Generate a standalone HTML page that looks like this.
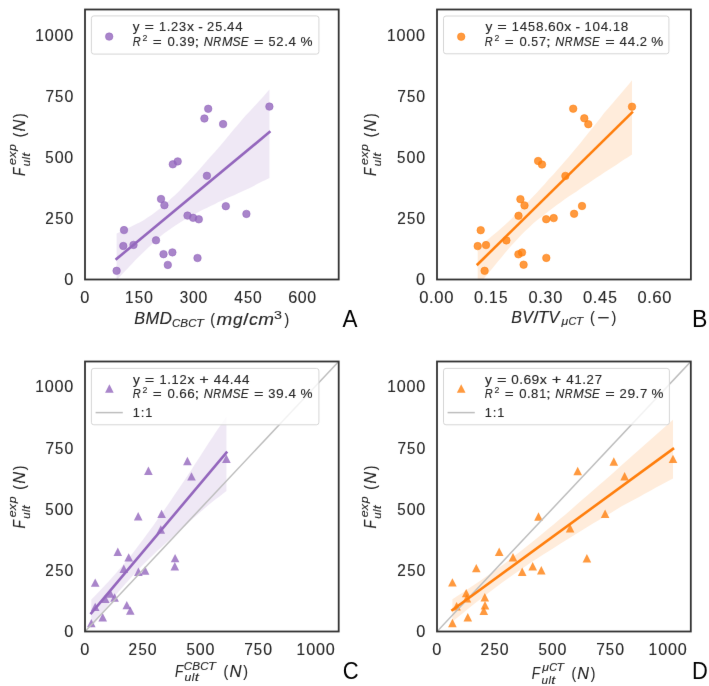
<!DOCTYPE html><html><head><meta charset="utf-8"><style>html,body{margin:0;padding:0;background:#fff;}svg{display:block;font-family:"Liberation Sans", sans-serif;}</style></head><body>
<svg width="709" height="686" viewBox="0 0 709 686">
<defs><filter id="bl" x="0" y="0" width="709" height="686" filterUnits="userSpaceOnUse" color-interpolation-filters="sRGB"><feConvolveMatrix order="3" kernelMatrix="0.00276 0.04704 0.00276 0.04704 0.80077 0.04704 0.00276 0.04704 0.00276" edgeMode="duplicate"/></filter></defs>
<g filter="url(#bl)">
<rect width="709" height="686" fill="#fff"/>
<clipPath id="clip859"><rect x="85.0" y="9.5" width="253.7" height="270.0"/></clipPath>
<g clip-path="url(#clip859)">
<polygon points="116.6,233.6 120.5,231.7 124.4,230.0 128.3,227.9 132.3,226.0 136.2,224.1 140.1,222.2 144.0,219.9 147.9,217.3 151.9,214.7 155.8,211.8 159.7,208.8 163.6,205.5 167.5,201.9 171.4,198.3 175.4,194.8 179.3,190.9 183.2,186.8 187.1,182.7 191.0,178.6 195.0,174.2 198.9,170.0 202.8,165.5 206.7,161.0 210.6,156.5 214.6,152.2 218.5,147.7 222.4,143.2 226.3,138.4 230.2,133.8 234.1,129.1 238.1,124.5 242.0,119.7 245.9,115.2 249.8,111.2 253.7,107.0 257.6,102.7 261.6,98.4 265.5,94.0 269.4,89.6 269.4,178.0 265.5,179.9 261.6,181.8 257.6,183.8 253.7,185.9 249.8,188.0 245.9,189.7 242.0,191.5 238.1,193.2 234.1,195.2 230.2,196.8 226.3,198.6 222.4,200.4 218.5,202.1 214.6,204.2 210.6,206.1 206.7,208.1 202.8,209.7 198.9,211.8 195.0,214.0 191.0,216.0 187.1,218.1 183.2,220.5 179.3,223.0 175.4,225.6 171.4,228.2 167.5,230.9 163.6,233.8 159.7,237.1 155.8,240.5 151.9,244.2 147.9,247.9 144.0,251.8 140.1,255.6 136.2,259.2 132.3,263.5 128.3,267.7 124.4,271.8 120.5,276.0 116.6,280.1" fill="#9467bd" fill-opacity="0.15"/>
<circle cx="116.6" cy="270.8" r="3.75" fill="#9467bd" fill-opacity="0.8" stroke="#9467bd" stroke-opacity="0.8" stroke-width="0.7"/>
<circle cx="123.3" cy="246.0" r="3.75" fill="#9467bd" fill-opacity="0.8" stroke="#9467bd" stroke-opacity="0.8" stroke-width="0.7"/>
<circle cx="124.0" cy="230.1" r="3.75" fill="#9467bd" fill-opacity="0.8" stroke="#9467bd" stroke-opacity="0.8" stroke-width="0.7"/>
<circle cx="133.5" cy="244.9" r="3.75" fill="#9467bd" fill-opacity="0.8" stroke="#9467bd" stroke-opacity="0.8" stroke-width="0.7"/>
<circle cx="156.0" cy="240.3" r="3.75" fill="#9467bd" fill-opacity="0.8" stroke="#9467bd" stroke-opacity="0.8" stroke-width="0.7"/>
<circle cx="161.0" cy="199.0" r="3.75" fill="#9467bd" fill-opacity="0.8" stroke="#9467bd" stroke-opacity="0.8" stroke-width="0.7"/>
<circle cx="164.4" cy="205.2" r="3.75" fill="#9467bd" fill-opacity="0.8" stroke="#9467bd" stroke-opacity="0.8" stroke-width="0.7"/>
<circle cx="163.5" cy="254.2" r="3.75" fill="#9467bd" fill-opacity="0.8" stroke="#9467bd" stroke-opacity="0.8" stroke-width="0.7"/>
<circle cx="172.4" cy="252.4" r="3.75" fill="#9467bd" fill-opacity="0.8" stroke="#9467bd" stroke-opacity="0.8" stroke-width="0.7"/>
<circle cx="167.8" cy="264.9" r="3.75" fill="#9467bd" fill-opacity="0.8" stroke="#9467bd" stroke-opacity="0.8" stroke-width="0.7"/>
<circle cx="172.8" cy="164.3" r="3.75" fill="#9467bd" fill-opacity="0.8" stroke="#9467bd" stroke-opacity="0.8" stroke-width="0.7"/>
<circle cx="177.7" cy="161.4" r="3.75" fill="#9467bd" fill-opacity="0.8" stroke="#9467bd" stroke-opacity="0.8" stroke-width="0.7"/>
<circle cx="187.5" cy="215.6" r="3.75" fill="#9467bd" fill-opacity="0.8" stroke="#9467bd" stroke-opacity="0.8" stroke-width="0.7"/>
<circle cx="193.1" cy="217.8" r="3.75" fill="#9467bd" fill-opacity="0.8" stroke="#9467bd" stroke-opacity="0.8" stroke-width="0.7"/>
<circle cx="198.8" cy="219.3" r="3.75" fill="#9467bd" fill-opacity="0.8" stroke="#9467bd" stroke-opacity="0.8" stroke-width="0.7"/>
<circle cx="197.5" cy="258.0" r="3.75" fill="#9467bd" fill-opacity="0.8" stroke="#9467bd" stroke-opacity="0.8" stroke-width="0.7"/>
<circle cx="206.9" cy="175.8" r="3.75" fill="#9467bd" fill-opacity="0.8" stroke="#9467bd" stroke-opacity="0.8" stroke-width="0.7"/>
<circle cx="208.2" cy="108.8" r="3.75" fill="#9467bd" fill-opacity="0.8" stroke="#9467bd" stroke-opacity="0.8" stroke-width="0.7"/>
<circle cx="204.4" cy="118.5" r="3.75" fill="#9467bd" fill-opacity="0.8" stroke="#9467bd" stroke-opacity="0.8" stroke-width="0.7"/>
<circle cx="223.1" cy="124.1" r="3.75" fill="#9467bd" fill-opacity="0.8" stroke="#9467bd" stroke-opacity="0.8" stroke-width="0.7"/>
<circle cx="269.4" cy="106.6" r="3.75" fill="#9467bd" fill-opacity="0.8" stroke="#9467bd" stroke-opacity="0.8" stroke-width="0.7"/>
<circle cx="225.8" cy="206.2" r="3.75" fill="#9467bd" fill-opacity="0.8" stroke="#9467bd" stroke-opacity="0.8" stroke-width="0.7"/>
<circle cx="246.4" cy="213.9" r="3.75" fill="#9467bd" fill-opacity="0.8" stroke="#9467bd" stroke-opacity="0.8" stroke-width="0.7"/>
<line x1="116.6" y1="258.85" x2="269.4" y2="132.2" stroke="#9467bd" stroke-width="2.6" stroke-linecap="square"/>
</g>
<rect x="85.0" y="9.5" width="253.7" height="270.0" fill="none" stroke="#333333" stroke-width="1.8"/>
<clipPath id="clip4379"><rect x="437.0" y="9.5" width="253.89999999999998" height="270.0"/></clipPath>
<g clip-path="url(#clip4379)">
<polygon points="477.7,247.4 481.7,244.4 485.6,241.3 489.6,238.0 493.5,234.8 497.5,231.5 501.4,228.0 505.4,224.4 509.4,220.7 513.3,216.9 517.3,213.1 521.2,209.1 525.2,205.0 529.1,200.8 533.1,196.6 537.0,192.4 541.0,188.0 545.0,183.7 548.9,179.1 552.9,174.9 556.8,170.5 560.8,166.0 564.7,161.4 568.7,157.0 572.6,152.3 576.6,147.5 580.6,142.7 584.5,137.8 588.5,132.8 592.4,127.9 596.4,122.9 600.4,117.9 604.3,112.8 608.3,108.2 612.2,103.7 616.2,99.0 620.1,94.5 624.1,89.8 628.0,85.2 632.0,80.3 632.0,154.6 628.0,157.2 624.1,159.5 620.1,162.3 616.2,165.0 612.2,167.5 608.3,169.9 604.3,172.6 600.4,175.2 596.4,177.8 592.4,180.6 588.5,183.2 584.5,185.8 580.6,188.5 576.6,191.4 572.6,193.9 568.7,196.5 564.7,199.3 560.8,202.2 556.8,205.0 552.9,208.0 548.9,210.9 545.0,214.1 541.0,217.2 537.0,220.3 533.1,223.6 529.1,227.4 525.2,230.9 521.2,235.1 517.3,239.2 513.3,243.4 509.4,247.8 505.4,252.5 501.4,257.4 497.5,262.1 493.5,266.9 489.6,271.7 485.6,276.5 481.7,281.4 477.7,286.4" fill="#ff7f0e" fill-opacity="0.15"/>
<circle cx="484.6" cy="270.8" r="3.75" fill="#ff7f0e" fill-opacity="0.8" stroke="#ff7f0e" stroke-opacity="0.8" stroke-width="0.7"/>
<circle cx="477.7" cy="246.1" r="3.75" fill="#ff7f0e" fill-opacity="0.8" stroke="#ff7f0e" stroke-opacity="0.8" stroke-width="0.7"/>
<circle cx="486.0" cy="245.1" r="3.75" fill="#ff7f0e" fill-opacity="0.8" stroke="#ff7f0e" stroke-opacity="0.8" stroke-width="0.7"/>
<circle cx="480.7" cy="230.2" r="3.75" fill="#ff7f0e" fill-opacity="0.8" stroke="#ff7f0e" stroke-opacity="0.8" stroke-width="0.7"/>
<circle cx="506.4" cy="240.4" r="3.75" fill="#ff7f0e" fill-opacity="0.8" stroke="#ff7f0e" stroke-opacity="0.8" stroke-width="0.7"/>
<circle cx="518.4" cy="254.3" r="3.75" fill="#ff7f0e" fill-opacity="0.8" stroke="#ff7f0e" stroke-opacity="0.8" stroke-width="0.7"/>
<circle cx="522.0" cy="252.5" r="3.75" fill="#ff7f0e" fill-opacity="0.8" stroke="#ff7f0e" stroke-opacity="0.8" stroke-width="0.7"/>
<circle cx="523.6" cy="264.7" r="3.75" fill="#ff7f0e" fill-opacity="0.8" stroke="#ff7f0e" stroke-opacity="0.8" stroke-width="0.7"/>
<circle cx="518.5" cy="215.8" r="3.75" fill="#ff7f0e" fill-opacity="0.8" stroke="#ff7f0e" stroke-opacity="0.8" stroke-width="0.7"/>
<circle cx="520.4" cy="199.2" r="3.75" fill="#ff7f0e" fill-opacity="0.8" stroke="#ff7f0e" stroke-opacity="0.8" stroke-width="0.7"/>
<circle cx="524.5" cy="205.4" r="3.75" fill="#ff7f0e" fill-opacity="0.8" stroke="#ff7f0e" stroke-opacity="0.8" stroke-width="0.7"/>
<circle cx="538.1" cy="161.0" r="3.75" fill="#ff7f0e" fill-opacity="0.8" stroke="#ff7f0e" stroke-opacity="0.8" stroke-width="0.7"/>
<circle cx="542.0" cy="164.5" r="3.75" fill="#ff7f0e" fill-opacity="0.8" stroke="#ff7f0e" stroke-opacity="0.8" stroke-width="0.7"/>
<circle cx="546.2" cy="219.2" r="3.75" fill="#ff7f0e" fill-opacity="0.8" stroke="#ff7f0e" stroke-opacity="0.8" stroke-width="0.7"/>
<circle cx="553.7" cy="218.1" r="3.75" fill="#ff7f0e" fill-opacity="0.8" stroke="#ff7f0e" stroke-opacity="0.8" stroke-width="0.7"/>
<circle cx="546.3" cy="257.9" r="3.75" fill="#ff7f0e" fill-opacity="0.8" stroke="#ff7f0e" stroke-opacity="0.8" stroke-width="0.7"/>
<circle cx="565.4" cy="175.9" r="3.75" fill="#ff7f0e" fill-opacity="0.8" stroke="#ff7f0e" stroke-opacity="0.8" stroke-width="0.7"/>
<circle cx="574.1" cy="213.8" r="3.75" fill="#ff7f0e" fill-opacity="0.8" stroke="#ff7f0e" stroke-opacity="0.8" stroke-width="0.7"/>
<circle cx="582.0" cy="206.0" r="3.75" fill="#ff7f0e" fill-opacity="0.8" stroke="#ff7f0e" stroke-opacity="0.8" stroke-width="0.7"/>
<circle cx="573.2" cy="108.7" r="3.75" fill="#ff7f0e" fill-opacity="0.8" stroke="#ff7f0e" stroke-opacity="0.8" stroke-width="0.7"/>
<circle cx="584.3" cy="118.3" r="3.75" fill="#ff7f0e" fill-opacity="0.8" stroke="#ff7f0e" stroke-opacity="0.8" stroke-width="0.7"/>
<circle cx="588.3" cy="124.2" r="3.75" fill="#ff7f0e" fill-opacity="0.8" stroke="#ff7f0e" stroke-opacity="0.8" stroke-width="0.7"/>
<circle cx="632.0" cy="106.7" r="3.75" fill="#ff7f0e" fill-opacity="0.8" stroke="#ff7f0e" stroke-opacity="0.8" stroke-width="0.7"/>
<line x1="477.7" y1="264.3" x2="632.0" y2="112.5" stroke="#ff7f0e" stroke-width="2.6" stroke-linecap="square"/>
</g>
<rect x="437.0" y="9.5" width="253.89999999999998" height="270.0" fill="none" stroke="#333333" stroke-width="1.8"/>
<clipPath id="clip85361"><rect x="85.0" y="361.5" width="253.7" height="270.0"/></clipPath>
<g clip-path="url(#clip85361)">
<polygon points="91.3,599.5 94.8,595.9 98.2,592.4 101.7,588.7 105.2,585.0 108.6,581.4 112.1,577.5 115.5,573.7 119.0,569.6 122.5,565.7 125.9,561.4 129.4,557.3 132.9,552.9 136.3,548.5 139.8,543.8 143.3,539.3 146.7,534.6 150.2,529.8 153.7,525.0 157.1,520.1 160.6,515.2 164.1,510.2 167.5,505.2 171.0,500.2 174.4,494.9 177.9,489.9 181.4,484.8 184.8,479.8 188.3,474.5 191.8,469.2 195.2,463.8 198.7,458.4 202.2,453.0 205.6,447.7 209.1,442.3 212.5,437.2 216.0,431.8 219.5,426.8 222.9,421.8 226.4,416.6 226.4,491.0 222.9,493.8 219.5,496.4 216.0,499.1 212.5,501.8 209.1,504.5 205.6,507.5 202.2,510.5 198.7,513.5 195.2,516.6 191.8,519.6 188.3,522.6 184.8,525.7 181.4,528.8 177.9,531.9 174.4,535.2 171.0,538.5 167.5,541.5 164.1,544.7 160.6,547.9 157.1,551.1 153.7,554.5 150.2,557.7 146.7,561.2 143.3,564.6 139.8,568.3 136.3,571.8 132.9,575.5 129.4,579.4 125.9,583.2 122.5,587.2 119.0,591.3 115.5,595.6 112.1,599.9 108.6,604.4 105.2,609.0 101.7,613.6 98.2,618.4 94.8,623.2 91.3,628.0" fill="#9467bd" fill-opacity="0.15"/>
<path d="M91.30,618.90L95.60,627.29L87.00,627.29Z" fill="#9467bd" fill-opacity="0.8"/>
<path d="M95.20,602.70L99.50,611.09L90.90,611.09Z" fill="#9467bd" fill-opacity="0.8"/>
<path d="M95.20,578.40L99.50,586.79L90.90,586.79Z" fill="#9467bd" fill-opacity="0.8"/>
<path d="M102.70,613.10L107.00,621.49L98.40,621.49Z" fill="#9467bd" fill-opacity="0.8"/>
<path d="M105.30,594.70L109.60,603.09L101.00,603.09Z" fill="#9467bd" fill-opacity="0.8"/>
<path d="M110.30,589.30L114.60,597.69L106.00,597.69Z" fill="#9467bd" fill-opacity="0.8"/>
<path d="M114.60,593.30L118.90,601.69L110.30,601.69Z" fill="#9467bd" fill-opacity="0.8"/>
<path d="M117.80,547.50L122.10,555.88L113.50,555.88Z" fill="#9467bd" fill-opacity="0.8"/>
<path d="M123.80,564.50L128.10,572.88L119.50,572.88Z" fill="#9467bd" fill-opacity="0.8"/>
<path d="M128.70,553.20L133.00,561.59L124.40,561.59Z" fill="#9467bd" fill-opacity="0.8"/>
<path d="M126.80,600.90L131.10,609.29L122.50,609.29Z" fill="#9467bd" fill-opacity="0.8"/>
<path d="M130.30,606.40L134.60,614.79L126.00,614.79Z" fill="#9467bd" fill-opacity="0.8"/>
<path d="M138.20,512.00L142.50,520.38L133.90,520.38Z" fill="#9467bd" fill-opacity="0.8"/>
<path d="M138.40,567.50L142.70,575.88L134.10,575.88Z" fill="#9467bd" fill-opacity="0.8"/>
<path d="M145.10,566.30L149.40,574.69L140.80,574.69Z" fill="#9467bd" fill-opacity="0.8"/>
<path d="M148.40,466.60L152.70,474.98L144.10,474.98Z" fill="#9467bd" fill-opacity="0.8"/>
<path d="M161.60,509.70L165.90,518.09L157.30,518.09Z" fill="#9467bd" fill-opacity="0.8"/>
<path d="M160.80,525.30L165.10,533.69L156.50,533.69Z" fill="#9467bd" fill-opacity="0.8"/>
<path d="M175.10,553.90L179.40,562.29L170.80,562.29Z" fill="#9467bd" fill-opacity="0.8"/>
<path d="M174.80,562.00L179.10,570.38L170.50,570.38Z" fill="#9467bd" fill-opacity="0.8"/>
<path d="M187.40,456.80L191.70,465.19L183.10,465.19Z" fill="#9467bd" fill-opacity="0.8"/>
<path d="M191.50,472.20L195.80,480.58L187.20,480.58Z" fill="#9467bd" fill-opacity="0.8"/>
<path d="M226.40,454.60L230.70,462.98L222.10,462.98Z" fill="#9467bd" fill-opacity="0.8"/>
<line x1="85.0" y1="631.5" x2="338.7" y2="361.5" stroke="#bebebe" stroke-width="1.5"/>
<line x1="91.3" y1="613.2" x2="226.4" y2="452.6" stroke="#9467bd" stroke-width="2.6" stroke-linecap="square"/>
</g>
<rect x="85.0" y="361.5" width="253.7" height="270.0" fill="none" stroke="#333333" stroke-width="1.8"/>
<clipPath id="clip437361"><rect x="437.0" y="361.5" width="253.79999999999995" height="270.0"/></clipPath>
<g clip-path="url(#clip437361)">
<polygon points="452.4,599.2 458.1,595.6 463.7,592.0 469.4,588.1 475.0,584.3 480.7,580.5 486.3,576.6 492.0,572.7 497.6,568.6 503.3,564.4 509.0,560.2 514.6,555.8 520.3,551.4 525.9,546.9 531.6,542.4 537.2,537.9 542.9,533.3 548.6,528.5 554.2,523.9 559.9,519.1 565.5,514.4 571.2,509.4 576.8,504.6 582.5,499.6 588.1,494.8 593.8,489.8 599.5,484.8 605.1,479.9 610.8,475.0 616.4,469.9 622.1,464.8 627.8,459.7 633.4,454.7 639.1,449.8 644.7,444.8 650.4,439.8 656.0,434.8 661.7,429.8 667.3,424.8 673.0,419.8 673.0,478.6 667.3,481.5 661.7,484.6 656.0,487.6 650.4,490.8 644.7,493.8 639.1,496.9 633.4,499.9 627.8,502.9 622.1,506.1 616.4,509.6 610.8,513.0 605.1,516.3 599.5,519.8 593.8,523.1 588.1,526.6 582.5,530.0 576.8,533.4 571.2,537.0 565.5,540.5 559.9,544.1 554.2,547.7 548.6,551.2 542.9,554.8 537.2,558.4 531.6,562.1 525.9,566.0 520.3,569.9 514.6,573.8 509.0,577.8 503.3,581.8 497.6,586.0 492.0,590.3 486.3,594.5 480.7,598.9 475.0,603.3 469.4,607.8 463.7,612.4 458.1,617.1 452.4,621.7" fill="#ff7f0e" fill-opacity="0.15"/>
<path d="M452.40,618.80L456.70,627.19L448.10,627.19Z" fill="#ff7f0e" fill-opacity="0.8"/>
<path d="M452.40,578.20L456.70,586.59L448.10,586.59Z" fill="#ff7f0e" fill-opacity="0.8"/>
<path d="M456.60,602.10L460.90,610.49L452.30,610.49Z" fill="#ff7f0e" fill-opacity="0.8"/>
<path d="M467.80,613.00L472.10,621.38L463.50,621.38Z" fill="#ff7f0e" fill-opacity="0.8"/>
<path d="M466.20,588.90L470.50,597.29L461.90,597.29Z" fill="#ff7f0e" fill-opacity="0.8"/>
<path d="M466.90,594.10L471.20,602.49L462.60,602.49Z" fill="#ff7f0e" fill-opacity="0.8"/>
<path d="M476.30,563.90L480.60,572.29L472.00,572.29Z" fill="#ff7f0e" fill-opacity="0.8"/>
<path d="M484.80,593.10L489.10,601.49L480.50,601.49Z" fill="#ff7f0e" fill-opacity="0.8"/>
<path d="M485.00,601.10L489.30,609.49L480.70,609.49Z" fill="#ff7f0e" fill-opacity="0.8"/>
<path d="M483.80,606.60L488.10,614.99L479.50,614.99Z" fill="#ff7f0e" fill-opacity="0.8"/>
<path d="M499.20,547.60L503.50,555.99L494.90,555.99Z" fill="#ff7f0e" fill-opacity="0.8"/>
<path d="M513.00,553.10L517.30,561.49L508.70,561.49Z" fill="#ff7f0e" fill-opacity="0.8"/>
<path d="M522.20,567.60L526.50,575.99L517.90,575.99Z" fill="#ff7f0e" fill-opacity="0.8"/>
<path d="M532.70,562.00L537.00,570.38L528.40,570.38Z" fill="#ff7f0e" fill-opacity="0.8"/>
<path d="M541.30,566.00L545.60,574.38L537.00,574.38Z" fill="#ff7f0e" fill-opacity="0.8"/>
<path d="M538.50,512.30L542.80,520.69L534.20,520.69Z" fill="#ff7f0e" fill-opacity="0.8"/>
<path d="M570.10,524.00L574.40,532.38L565.80,532.38Z" fill="#ff7f0e" fill-opacity="0.8"/>
<path d="M586.90,554.10L591.20,562.49L582.60,562.49Z" fill="#ff7f0e" fill-opacity="0.8"/>
<path d="M577.70,466.80L582.00,475.19L573.40,475.19Z" fill="#ff7f0e" fill-opacity="0.8"/>
<path d="M605.10,509.60L609.40,517.99L600.80,517.99Z" fill="#ff7f0e" fill-opacity="0.8"/>
<path d="M613.80,457.30L618.10,465.69L609.50,465.69Z" fill="#ff7f0e" fill-opacity="0.8"/>
<path d="M624.60,472.10L628.90,480.48L620.30,480.48Z" fill="#ff7f0e" fill-opacity="0.8"/>
<path d="M673.00,454.70L677.30,463.08L668.70,463.08Z" fill="#ff7f0e" fill-opacity="0.8"/>
<line x1="437.0" y1="631.5" x2="690.8" y2="361.5" stroke="#bebebe" stroke-width="1.5"/>
<line x1="452.4" y1="610.0" x2="673.0" y2="448.9" stroke="#ff7f0e" stroke-width="2.6" stroke-linecap="square"/>
</g>
<rect x="437.0" y="361.5" width="253.79999999999995" height="270.0" fill="none" stroke="#333333" stroke-width="1.8"/>
<rect x="91.4" y="15.9" width="227.49999999999997" height="38.2" rx="2.5" ry="2.5" fill="#fff" fill-opacity="0.8" stroke="#d6d6d6" stroke-width="1"/>
<circle cx="109.2" cy="36.6" r="3.75" fill="#9467bd" fill-opacity="0.8" stroke="#9467bd" stroke-opacity="0.8" stroke-width="0.7"/>
<text x="132.87" y="31.10" font-size="12.6" fill="#262626" stroke="#262626" stroke-width="0.12" textLength="6.79" lengthAdjust="spacingAndGlyphs">y</text>
<text x="144.56" y="31.10" font-size="12.6" fill="#262626" stroke="#262626" stroke-width="0.12" textLength="9.49" lengthAdjust="spacingAndGlyphs">=</text>
<text x="159.03" y="31.10" font-size="12.6" fill="#262626" stroke="#262626" stroke-width="0.12" textLength="7.06" lengthAdjust="spacingAndGlyphs">1</text>
<text x="166.79" y="31.10" font-size="12.6" fill="#262626" stroke="#262626" stroke-width="0.12" textLength="3.69" lengthAdjust="spacingAndGlyphs">.</text>
<text x="170.92" y="31.10" font-size="12.6" fill="#262626" stroke="#262626" stroke-width="0.12" textLength="7.18" lengthAdjust="spacingAndGlyphs">2</text>
<text x="179.14" y="31.10" font-size="12.6" fill="#262626" stroke="#262626" stroke-width="0.12" textLength="7.13" lengthAdjust="spacingAndGlyphs">3</text>
<text x="186.91" y="31.10" font-size="12.6" fill="#262626" stroke="#262626" stroke-width="0.12" textLength="7.01" lengthAdjust="spacingAndGlyphs">x</text>
<text x="198.18" y="31.10" font-size="12.6" fill="#262626" stroke="#262626" stroke-width="0.12" textLength="4.55" lengthAdjust="spacingAndGlyphs">-</text>
<text x="207.04" y="31.10" font-size="12.6" fill="#262626" stroke="#262626" stroke-width="0.12" textLength="7.18" lengthAdjust="spacingAndGlyphs">2</text>
<text x="215.27" y="31.10" font-size="12.6" fill="#262626" stroke="#262626" stroke-width="0.12" textLength="6.98" lengthAdjust="spacingAndGlyphs">5</text>
<text x="222.99" y="31.10" font-size="12.6" fill="#262626" stroke="#262626" stroke-width="0.12" textLength="3.69" lengthAdjust="spacingAndGlyphs">.</text>
<text x="227.14" y="31.10" font-size="12.6" fill="#262626" stroke="#262626" stroke-width="0.12" textLength="7.40" lengthAdjust="spacingAndGlyphs">4</text>
<text x="235.18" y="31.10" font-size="12.6" fill="#262626" stroke="#262626" stroke-width="0.12" textLength="7.40" lengthAdjust="spacingAndGlyphs">4</text>
<text x="132.67" y="46.00" font-size="12.6" fill="#262626" font-style="italic" stroke="#262626" stroke-width="0.12" textLength="7.96" lengthAdjust="spacingAndGlyphs">R</text>
<text x="142.47" y="41.00" font-size="8.9" fill="#262626" stroke="#262626" stroke-width="0.12" textLength="4.89" lengthAdjust="spacingAndGlyphs">2</text>
<text x="152.78" y="46.00" font-size="12.6" fill="#262626" stroke="#262626" stroke-width="0.12" textLength="8.99" lengthAdjust="spacingAndGlyphs">=</text>
<text x="167.59" y="46.00" font-size="12.6" fill="#262626" stroke="#262626" stroke-width="0.12" textLength="7.31" lengthAdjust="spacingAndGlyphs">0</text>
<text x="175.38" y="46.00" font-size="12.6" fill="#262626" stroke="#262626" stroke-width="0.12" textLength="3.63" lengthAdjust="spacingAndGlyphs">.</text>
<text x="179.64" y="46.00" font-size="12.6" fill="#262626" stroke="#262626" stroke-width="0.12" textLength="7.03" lengthAdjust="spacingAndGlyphs">3</text>
<text x="187.22" y="46.00" font-size="12.6" fill="#262626" stroke="#262626" stroke-width="0.12" textLength="7.51" lengthAdjust="spacingAndGlyphs">9</text>
<text x="194.49" y="46.00" font-size="12.6" fill="#262626" stroke="#262626" stroke-width="0.12" textLength="4.73" lengthAdjust="spacingAndGlyphs">;</text>
<text x="203.76" y="46.00" font-size="12.6" fill="#262626" font-style="italic" stroke="#262626" stroke-width="0.12" textLength="9.10" lengthAdjust="spacingAndGlyphs">N</text>
<text x="213.24" y="46.00" font-size="12.6" fill="#262626" font-style="italic" stroke="#262626" stroke-width="0.12" textLength="7.86" lengthAdjust="spacingAndGlyphs">R</text>
<text x="221.93" y="46.00" font-size="12.6" fill="#262626" font-style="italic" stroke="#262626" stroke-width="0.12" textLength="10.56" lengthAdjust="spacingAndGlyphs">M</text>
<text x="232.57" y="46.00" font-size="12.6" fill="#262626" font-style="italic" stroke="#262626" stroke-width="0.12" textLength="8.00" lengthAdjust="spacingAndGlyphs">S</text>
<text x="240.82" y="46.00" font-size="12.6" fill="#262626" font-style="italic" stroke="#262626" stroke-width="0.12" textLength="7.82" lengthAdjust="spacingAndGlyphs">E</text>
<text x="254.09" y="46.00" font-size="12.6" fill="#262626" stroke="#262626" stroke-width="0.12" textLength="9.59" lengthAdjust="spacingAndGlyphs">=</text>
<text x="268.47" y="46.00" font-size="12.6" fill="#262626" stroke="#262626" stroke-width="0.12" textLength="7.06" lengthAdjust="spacingAndGlyphs">5</text>
<text x="276.38" y="46.00" font-size="12.6" fill="#262626" stroke="#262626" stroke-width="0.12" textLength="7.26" lengthAdjust="spacingAndGlyphs">2</text>
<text x="284.39" y="46.00" font-size="12.6" fill="#262626" stroke="#262626" stroke-width="0.12" textLength="3.73" lengthAdjust="spacingAndGlyphs">.</text>
<text x="288.59" y="46.00" font-size="12.6" fill="#262626" stroke="#262626" stroke-width="0.12" textLength="7.49" lengthAdjust="spacingAndGlyphs">4</text>
<text x="300.62" y="46.00" font-size="12.6" fill="#262626" stroke="#262626" stroke-width="0.12" textLength="12.04" lengthAdjust="spacingAndGlyphs">%</text>
<rect x="443.5" y="16.0" width="225.39999999999998" height="37.8" rx="2.5" ry="2.5" fill="#fff" fill-opacity="0.8" stroke="#d6d6d6" stroke-width="1"/>
<circle cx="461.2" cy="36.7" r="3.75" fill="#ff7f0e" fill-opacity="0.8" stroke="#ff7f0e" stroke-opacity="0.8" stroke-width="0.7"/>
<text x="485.47" y="30.80" font-size="12.6" fill="#262626" stroke="#262626" stroke-width="0.12" textLength="6.84" lengthAdjust="spacingAndGlyphs">y</text>
<text x="497.24" y="30.80" font-size="12.6" fill="#262626" stroke="#262626" stroke-width="0.12" textLength="9.56" lengthAdjust="spacingAndGlyphs">=</text>
<text x="511.82" y="30.80" font-size="12.6" fill="#262626" stroke="#262626" stroke-width="0.12" textLength="7.11" lengthAdjust="spacingAndGlyphs">1</text>
<text x="519.78" y="30.80" font-size="12.6" fill="#262626" stroke="#262626" stroke-width="0.12" textLength="7.46" lengthAdjust="spacingAndGlyphs">4</text>
<text x="528.05" y="30.80" font-size="12.6" fill="#262626" stroke="#262626" stroke-width="0.12" textLength="7.04" lengthAdjust="spacingAndGlyphs">5</text>
<text x="535.94" y="30.80" font-size="12.6" fill="#262626" stroke="#262626" stroke-width="0.12" textLength="7.52" lengthAdjust="spacingAndGlyphs">8</text>
<text x="543.91" y="30.80" font-size="12.6" fill="#262626" stroke="#262626" stroke-width="0.12" textLength="3.71" lengthAdjust="spacingAndGlyphs">.</text>
<text x="547.99" y="30.80" font-size="12.6" fill="#262626" stroke="#262626" stroke-width="0.12" textLength="7.68" lengthAdjust="spacingAndGlyphs">6</text>
<text x="556.17" y="30.80" font-size="12.6" fill="#262626" stroke="#262626" stroke-width="0.12" textLength="7.48" lengthAdjust="spacingAndGlyphs">0</text>
<text x="564.18" y="30.80" font-size="12.6" fill="#262626" stroke="#262626" stroke-width="0.12" textLength="7.06" lengthAdjust="spacingAndGlyphs">x</text>
<text x="575.53" y="30.80" font-size="12.6" fill="#262626" stroke="#262626" stroke-width="0.12" textLength="4.58" lengthAdjust="spacingAndGlyphs">-</text>
<text x="584.62" y="30.80" font-size="12.6" fill="#262626" stroke="#262626" stroke-width="0.12" textLength="7.11" lengthAdjust="spacingAndGlyphs">1</text>
<text x="592.56" y="30.80" font-size="12.6" fill="#262626" stroke="#262626" stroke-width="0.12" textLength="7.48" lengthAdjust="spacingAndGlyphs">0</text>
<text x="600.66" y="30.80" font-size="12.6" fill="#262626" stroke="#262626" stroke-width="0.12" textLength="7.46" lengthAdjust="spacingAndGlyphs">4</text>
<text x="608.61" y="30.80" font-size="12.6" fill="#262626" stroke="#262626" stroke-width="0.12" textLength="3.71" lengthAdjust="spacingAndGlyphs">.</text>
<text x="612.93" y="30.80" font-size="12.6" fill="#262626" stroke="#262626" stroke-width="0.12" textLength="7.11" lengthAdjust="spacingAndGlyphs">1</text>
<text x="620.87" y="30.80" font-size="12.6" fill="#262626" stroke="#262626" stroke-width="0.12" textLength="7.52" lengthAdjust="spacingAndGlyphs">8</text>
<text x="484.77" y="45.90" font-size="12.6" fill="#262626" font-style="italic" stroke="#262626" stroke-width="0.12" textLength="7.90" lengthAdjust="spacingAndGlyphs">R</text>
<text x="494.48" y="40.90" font-size="8.9" fill="#262626" stroke="#262626" stroke-width="0.12" textLength="4.85" lengthAdjust="spacingAndGlyphs">2</text>
<text x="504.71" y="45.90" font-size="12.6" fill="#262626" stroke="#262626" stroke-width="0.12" textLength="8.91" lengthAdjust="spacingAndGlyphs">=</text>
<text x="519.40" y="45.90" font-size="12.6" fill="#262626" stroke="#262626" stroke-width="0.12" textLength="7.25" lengthAdjust="spacingAndGlyphs">0</text>
<text x="527.13" y="45.90" font-size="12.6" fill="#262626" stroke="#262626" stroke-width="0.12" textLength="3.60" lengthAdjust="spacingAndGlyphs">.</text>
<text x="531.35" y="45.90" font-size="12.6" fill="#262626" stroke="#262626" stroke-width="0.12" textLength="6.82" lengthAdjust="spacingAndGlyphs">5</text>
<text x="539.12" y="45.90" font-size="12.6" fill="#262626" stroke="#262626" stroke-width="0.12" textLength="7.05" lengthAdjust="spacingAndGlyphs">7</text>
<text x="546.06" y="45.90" font-size="12.6" fill="#262626" stroke="#262626" stroke-width="0.12" textLength="4.73" lengthAdjust="spacingAndGlyphs">;</text>
<text x="555.27" y="45.90" font-size="12.6" fill="#262626" font-style="italic" stroke="#262626" stroke-width="0.12" textLength="9.02" lengthAdjust="spacingAndGlyphs">N</text>
<text x="564.66" y="45.90" font-size="12.6" fill="#262626" font-style="italic" stroke="#262626" stroke-width="0.12" textLength="7.79" lengthAdjust="spacingAndGlyphs">R</text>
<text x="573.29" y="45.90" font-size="12.6" fill="#262626" font-style="italic" stroke="#262626" stroke-width="0.12" textLength="10.47" lengthAdjust="spacingAndGlyphs">M</text>
<text x="583.83" y="45.90" font-size="12.6" fill="#262626" font-style="italic" stroke="#262626" stroke-width="0.12" textLength="7.93" lengthAdjust="spacingAndGlyphs">S</text>
<text x="592.02" y="45.90" font-size="12.6" fill="#262626" font-style="italic" stroke="#262626" stroke-width="0.12" textLength="7.75" lengthAdjust="spacingAndGlyphs">E</text>
<text x="605.18" y="45.90" font-size="12.6" fill="#262626" stroke="#262626" stroke-width="0.12" textLength="9.51" lengthAdjust="spacingAndGlyphs">=</text>
<text x="619.64" y="45.90" font-size="12.6" fill="#262626" stroke="#262626" stroke-width="0.12" textLength="7.47" lengthAdjust="spacingAndGlyphs">4</text>
<text x="627.74" y="45.90" font-size="12.6" fill="#262626" stroke="#262626" stroke-width="0.12" textLength="7.47" lengthAdjust="spacingAndGlyphs">4</text>
<text x="635.70" y="45.90" font-size="12.6" fill="#262626" stroke="#262626" stroke-width="0.12" textLength="3.72" lengthAdjust="spacingAndGlyphs">.</text>
<text x="639.86" y="45.90" font-size="12.6" fill="#262626" stroke="#262626" stroke-width="0.12" textLength="7.24" lengthAdjust="spacingAndGlyphs">2</text>
<text x="651.32" y="45.90" font-size="12.6" fill="#262626" stroke="#262626" stroke-width="0.12" textLength="11.94" lengthAdjust="spacingAndGlyphs">%</text>
<rect x="91.4" y="368.4" width="227.49999999999997" height="56.400000000000034" rx="2.5" ry="2.5" fill="#fff" fill-opacity="0.8" stroke="#d6d6d6" stroke-width="1"/>
<path d="M109.40,384.30L113.70,392.69L105.10,392.69Z" fill="#9467bd" fill-opacity="0.8"/>
<text x="133.07" y="383.60" font-size="12.6" fill="#262626" stroke="#262626" stroke-width="0.12" textLength="6.84" lengthAdjust="spacingAndGlyphs">y</text>
<text x="144.84" y="383.60" font-size="12.6" fill="#262626" stroke="#262626" stroke-width="0.12" textLength="9.55" lengthAdjust="spacingAndGlyphs">=</text>
<text x="159.41" y="383.60" font-size="12.6" fill="#262626" stroke="#262626" stroke-width="0.12" textLength="7.11" lengthAdjust="spacingAndGlyphs">1</text>
<text x="167.22" y="383.60" font-size="12.6" fill="#262626" stroke="#262626" stroke-width="0.12" textLength="3.71" lengthAdjust="spacingAndGlyphs">.</text>
<text x="171.54" y="383.60" font-size="12.6" fill="#262626" stroke="#262626" stroke-width="0.12" textLength="7.11" lengthAdjust="spacingAndGlyphs">1</text>
<text x="179.46" y="383.60" font-size="12.6" fill="#262626" stroke="#262626" stroke-width="0.12" textLength="7.22" lengthAdjust="spacingAndGlyphs">2</text>
<text x="187.48" y="383.60" font-size="12.6" fill="#262626" stroke="#262626" stroke-width="0.12" textLength="7.06" lengthAdjust="spacingAndGlyphs">x</text>
<text x="199.39" y="383.60" font-size="12.6" fill="#262626" stroke="#262626" stroke-width="0.12" textLength="9.55" lengthAdjust="spacingAndGlyphs">+</text>
<text x="213.83" y="383.60" font-size="12.6" fill="#262626" stroke="#262626" stroke-width="0.12" textLength="7.45" lengthAdjust="spacingAndGlyphs">4</text>
<text x="221.92" y="383.60" font-size="12.6" fill="#262626" stroke="#262626" stroke-width="0.12" textLength="7.45" lengthAdjust="spacingAndGlyphs">4</text>
<text x="229.86" y="383.60" font-size="12.6" fill="#262626" stroke="#262626" stroke-width="0.12" textLength="3.71" lengthAdjust="spacingAndGlyphs">.</text>
<text x="234.04" y="383.60" font-size="12.6" fill="#262626" stroke="#262626" stroke-width="0.12" textLength="7.45" lengthAdjust="spacingAndGlyphs">4</text>
<text x="242.13" y="383.60" font-size="12.6" fill="#262626" stroke="#262626" stroke-width="0.12" textLength="7.45" lengthAdjust="spacingAndGlyphs">4</text>
<text x="132.67" y="398.30" font-size="12.6" fill="#262626" font-style="italic" stroke="#262626" stroke-width="0.12" textLength="7.95" lengthAdjust="spacingAndGlyphs">R</text>
<text x="142.46" y="393.30" font-size="8.9" fill="#262626" stroke="#262626" stroke-width="0.12" textLength="4.89" lengthAdjust="spacingAndGlyphs">2</text>
<text x="152.76" y="398.30" font-size="12.6" fill="#262626" stroke="#262626" stroke-width="0.12" textLength="8.98" lengthAdjust="spacingAndGlyphs">=</text>
<text x="167.55" y="398.30" font-size="12.6" fill="#262626" stroke="#262626" stroke-width="0.12" textLength="7.31" lengthAdjust="spacingAndGlyphs">0</text>
<text x="175.34" y="398.30" font-size="12.6" fill="#262626" stroke="#262626" stroke-width="0.12" textLength="3.63" lengthAdjust="spacingAndGlyphs">.</text>
<text x="179.32" y="398.30" font-size="12.6" fill="#262626" stroke="#262626" stroke-width="0.12" textLength="7.51" lengthAdjust="spacingAndGlyphs">6</text>
<text x="187.22" y="398.30" font-size="12.6" fill="#262626" stroke="#262626" stroke-width="0.12" textLength="7.51" lengthAdjust="spacingAndGlyphs">6</text>
<text x="194.42" y="398.30" font-size="12.6" fill="#262626" stroke="#262626" stroke-width="0.12" textLength="4.73" lengthAdjust="spacingAndGlyphs">;</text>
<text x="203.68" y="398.30" font-size="12.6" fill="#262626" font-style="italic" stroke="#262626" stroke-width="0.12" textLength="9.09" lengthAdjust="spacingAndGlyphs">N</text>
<text x="213.15" y="398.30" font-size="12.6" fill="#262626" font-style="italic" stroke="#262626" stroke-width="0.12" textLength="7.85" lengthAdjust="spacingAndGlyphs">R</text>
<text x="221.83" y="398.30" font-size="12.6" fill="#262626" font-style="italic" stroke="#262626" stroke-width="0.12" textLength="10.55" lengthAdjust="spacingAndGlyphs">M</text>
<text x="232.46" y="398.30" font-size="12.6" fill="#262626" font-style="italic" stroke="#262626" stroke-width="0.12" textLength="7.99" lengthAdjust="spacingAndGlyphs">S</text>
<text x="240.70" y="398.30" font-size="12.6" fill="#262626" font-style="italic" stroke="#262626" stroke-width="0.12" textLength="7.81" lengthAdjust="spacingAndGlyphs">E</text>
<text x="253.95" y="398.30" font-size="12.6" fill="#262626" stroke="#262626" stroke-width="0.12" textLength="9.58" lengthAdjust="spacingAndGlyphs">=</text>
<text x="268.34" y="398.30" font-size="12.6" fill="#262626" stroke="#262626" stroke-width="0.12" textLength="7.19" lengthAdjust="spacingAndGlyphs">3</text>
<text x="276.11" y="398.30" font-size="12.6" fill="#262626" stroke="#262626" stroke-width="0.12" textLength="7.70" lengthAdjust="spacingAndGlyphs">9</text>
<text x="284.24" y="398.30" font-size="12.6" fill="#262626" stroke="#262626" stroke-width="0.12" textLength="3.72" lengthAdjust="spacingAndGlyphs">.</text>
<text x="288.43" y="398.30" font-size="12.6" fill="#262626" stroke="#262626" stroke-width="0.12" textLength="7.47" lengthAdjust="spacingAndGlyphs">4</text>
<text x="300.43" y="398.30" font-size="12.6" fill="#262626" stroke="#262626" stroke-width="0.12" textLength="12.03" lengthAdjust="spacingAndGlyphs">%</text>
<line x1="95.6" y1="412.6" x2="122.8" y2="412.6" stroke="#bebebe" stroke-width="1.5"/>
<text x="132.85" y="417.30" font-size="12.6" fill="#262626" stroke="#262626" stroke-width="0.12" textLength="7.07" lengthAdjust="spacingAndGlyphs">1</text>
<text x="140.74" y="417.30" font-size="12.6" fill="#262626" stroke="#262626" stroke-width="0.12" textLength="3.69" lengthAdjust="spacingAndGlyphs">:</text>
<text x="145.15" y="417.30" font-size="12.6" fill="#262626" stroke="#262626" stroke-width="0.12" textLength="7.07" lengthAdjust="spacingAndGlyphs">1</text>
<rect x="443.5" y="368.4" width="225.89999999999998" height="56.400000000000034" rx="2.5" ry="2.5" fill="#fff" fill-opacity="0.8" stroke="#d6d6d6" stroke-width="1"/>
<path d="M461.20,384.30L465.50,392.69L456.90,392.69Z" fill="#ff7f0e" fill-opacity="0.8"/>
<text x="485.07" y="383.60" font-size="12.6" fill="#262626" stroke="#262626" stroke-width="0.12" textLength="6.87" lengthAdjust="spacingAndGlyphs">y</text>
<text x="496.90" y="383.60" font-size="12.6" fill="#262626" stroke="#262626" stroke-width="0.12" textLength="9.60" lengthAdjust="spacingAndGlyphs">=</text>
<text x="511.39" y="383.60" font-size="12.6" fill="#262626" stroke="#262626" stroke-width="0.12" textLength="7.51" lengthAdjust="spacingAndGlyphs">0</text>
<text x="519.39" y="383.60" font-size="12.6" fill="#262626" stroke="#262626" stroke-width="0.12" textLength="3.73" lengthAdjust="spacingAndGlyphs">.</text>
<text x="523.49" y="383.60" font-size="12.6" fill="#262626" stroke="#262626" stroke-width="0.12" textLength="7.72" lengthAdjust="spacingAndGlyphs">6</text>
<text x="531.56" y="383.60" font-size="12.6" fill="#262626" stroke="#262626" stroke-width="0.12" textLength="7.72" lengthAdjust="spacingAndGlyphs">9</text>
<text x="539.75" y="383.60" font-size="12.6" fill="#262626" stroke="#262626" stroke-width="0.12" textLength="7.09" lengthAdjust="spacingAndGlyphs">x</text>
<text x="551.73" y="383.60" font-size="12.6" fill="#262626" stroke="#262626" stroke-width="0.12" textLength="9.60" lengthAdjust="spacingAndGlyphs">+</text>
<text x="566.23" y="383.60" font-size="12.6" fill="#262626" stroke="#262626" stroke-width="0.12" textLength="7.49" lengthAdjust="spacingAndGlyphs">4</text>
<text x="574.50" y="383.60" font-size="12.6" fill="#262626" stroke="#262626" stroke-width="0.12" textLength="7.15" lengthAdjust="spacingAndGlyphs">1</text>
<text x="582.35" y="383.60" font-size="12.6" fill="#262626" stroke="#262626" stroke-width="0.12" textLength="3.73" lengthAdjust="spacingAndGlyphs">.</text>
<text x="586.52" y="383.60" font-size="12.6" fill="#262626" stroke="#262626" stroke-width="0.12" textLength="7.26" lengthAdjust="spacingAndGlyphs">2</text>
<text x="594.77" y="383.60" font-size="12.6" fill="#262626" stroke="#262626" stroke-width="0.12" textLength="7.30" lengthAdjust="spacingAndGlyphs">7</text>
<text x="484.67" y="398.30" font-size="12.6" fill="#262626" font-style="italic" stroke="#262626" stroke-width="0.12" textLength="7.91" lengthAdjust="spacingAndGlyphs">R</text>
<text x="494.40" y="393.30" font-size="8.9" fill="#262626" stroke="#262626" stroke-width="0.12" textLength="4.86" lengthAdjust="spacingAndGlyphs">2</text>
<text x="504.65" y="398.30" font-size="12.6" fill="#262626" stroke="#262626" stroke-width="0.12" textLength="8.93" lengthAdjust="spacingAndGlyphs">=</text>
<text x="519.36" y="398.30" font-size="12.6" fill="#262626" stroke="#262626" stroke-width="0.12" textLength="7.27" lengthAdjust="spacingAndGlyphs">0</text>
<text x="527.10" y="398.30" font-size="12.6" fill="#262626" stroke="#262626" stroke-width="0.12" textLength="3.61" lengthAdjust="spacingAndGlyphs">.</text>
<text x="531.14" y="398.30" font-size="12.6" fill="#262626" stroke="#262626" stroke-width="0.12" textLength="7.31" lengthAdjust="spacingAndGlyphs">8</text>
<text x="539.15" y="398.30" font-size="12.6" fill="#262626" stroke="#262626" stroke-width="0.12" textLength="6.91" lengthAdjust="spacingAndGlyphs">1</text>
<text x="546.06" y="398.30" font-size="12.6" fill="#262626" stroke="#262626" stroke-width="0.12" textLength="4.73" lengthAdjust="spacingAndGlyphs">;</text>
<text x="555.29" y="398.30" font-size="12.6" fill="#262626" font-style="italic" stroke="#262626" stroke-width="0.12" textLength="9.04" lengthAdjust="spacingAndGlyphs">N</text>
<text x="564.70" y="398.30" font-size="12.6" fill="#262626" font-style="italic" stroke="#262626" stroke-width="0.12" textLength="7.81" lengthAdjust="spacingAndGlyphs">R</text>
<text x="573.34" y="398.30" font-size="12.6" fill="#262626" font-style="italic" stroke="#262626" stroke-width="0.12" textLength="10.49" lengthAdjust="spacingAndGlyphs">M</text>
<text x="583.90" y="398.30" font-size="12.6" fill="#262626" font-style="italic" stroke="#262626" stroke-width="0.12" textLength="7.95" lengthAdjust="spacingAndGlyphs">S</text>
<text x="592.10" y="398.30" font-size="12.6" fill="#262626" font-style="italic" stroke="#262626" stroke-width="0.12" textLength="7.76" lengthAdjust="spacingAndGlyphs">E</text>
<text x="605.28" y="398.30" font-size="12.6" fill="#262626" stroke="#262626" stroke-width="0.12" textLength="9.52" lengthAdjust="spacingAndGlyphs">=</text>
<text x="619.41" y="398.30" font-size="12.6" fill="#262626" stroke="#262626" stroke-width="0.12" textLength="7.29" lengthAdjust="spacingAndGlyphs">2</text>
<text x="627.44" y="398.30" font-size="12.6" fill="#262626" stroke="#262626" stroke-width="0.12" textLength="7.75" lengthAdjust="spacingAndGlyphs">9</text>
<text x="635.63" y="398.30" font-size="12.6" fill="#262626" stroke="#262626" stroke-width="0.12" textLength="3.75" lengthAdjust="spacingAndGlyphs">.</text>
<text x="639.94" y="398.30" font-size="12.6" fill="#262626" stroke="#262626" stroke-width="0.12" textLength="7.33" lengthAdjust="spacingAndGlyphs">7</text>
<text x="651.50" y="398.30" font-size="12.6" fill="#262626" stroke="#262626" stroke-width="0.12" textLength="11.96" lengthAdjust="spacingAndGlyphs">%</text>
<line x1="447.6" y1="412.6" x2="474.8" y2="412.6" stroke="#bebebe" stroke-width="1.5"/>
<text x="484.85" y="417.30" font-size="12.6" fill="#262626" stroke="#262626" stroke-width="0.12" textLength="7.07" lengthAdjust="spacingAndGlyphs">1</text>
<text x="492.74" y="417.30" font-size="12.6" fill="#262626" stroke="#262626" stroke-width="0.12" textLength="3.69" lengthAdjust="spacingAndGlyphs">:</text>
<text x="497.15" y="417.30" font-size="12.6" fill="#262626" stroke="#262626" stroke-width="0.12" textLength="7.07" lengthAdjust="spacingAndGlyphs">1</text>
<text x="64.25" y="284.90" font-size="15.6" fill="#262626" stroke="#262626" stroke-width="0.12" textLength="9.09" lengthAdjust="spacingAndGlyphs">0</text>
<text x="45.33" y="223.80" font-size="15.6" fill="#262626" stroke="#262626" stroke-width="0.12" textLength="8.54" lengthAdjust="spacingAndGlyphs">2</text>
<text x="55.14" y="223.80" font-size="15.6" fill="#262626" stroke="#262626" stroke-width="0.12" textLength="8.31" lengthAdjust="spacingAndGlyphs">5</text>
<text x="64.47" y="223.80" font-size="15.6" fill="#262626" stroke="#262626" stroke-width="0.12" textLength="8.84" lengthAdjust="spacingAndGlyphs">0</text>
<text x="45.30" y="162.70" font-size="15.6" fill="#262626" stroke="#262626" stroke-width="0.12" textLength="8.40" lengthAdjust="spacingAndGlyphs">5</text>
<text x="54.73" y="162.70" font-size="15.6" fill="#262626" stroke="#262626" stroke-width="0.12" textLength="8.93" lengthAdjust="spacingAndGlyphs">0</text>
<text x="64.39" y="162.70" font-size="15.6" fill="#262626" stroke="#262626" stroke-width="0.12" textLength="8.93" lengthAdjust="spacingAndGlyphs">0</text>
<text x="45.43" y="101.60" font-size="15.6" fill="#262626" stroke="#262626" stroke-width="0.12" textLength="8.60" lengthAdjust="spacingAndGlyphs">7</text>
<text x="55.11" y="101.60" font-size="15.6" fill="#262626" stroke="#262626" stroke-width="0.12" textLength="8.33" lengthAdjust="spacingAndGlyphs">5</text>
<text x="64.46" y="101.60" font-size="15.6" fill="#262626" stroke="#262626" stroke-width="0.12" textLength="8.86" lengthAdjust="spacingAndGlyphs">0</text>
<text x="35.24" y="40.50" font-size="15.6" fill="#262626" stroke="#262626" stroke-width="0.12" textLength="8.57" lengthAdjust="spacingAndGlyphs">1</text>
<text x="44.81" y="40.50" font-size="15.6" fill="#262626" stroke="#262626" stroke-width="0.12" textLength="9.01" lengthAdjust="spacingAndGlyphs">0</text>
<text x="54.56" y="40.50" font-size="15.6" fill="#262626" stroke="#262626" stroke-width="0.12" textLength="9.01" lengthAdjust="spacingAndGlyphs">0</text>
<text x="64.31" y="40.50" font-size="15.6" fill="#262626" stroke="#262626" stroke-width="0.12" textLength="9.01" lengthAdjust="spacingAndGlyphs">0</text>
<text x="416.05" y="284.90" font-size="15.6" fill="#262626" stroke="#262626" stroke-width="0.12" textLength="9.09" lengthAdjust="spacingAndGlyphs">0</text>
<text x="397.13" y="223.80" font-size="15.6" fill="#262626" stroke="#262626" stroke-width="0.12" textLength="8.54" lengthAdjust="spacingAndGlyphs">2</text>
<text x="406.94" y="223.80" font-size="15.6" fill="#262626" stroke="#262626" stroke-width="0.12" textLength="8.31" lengthAdjust="spacingAndGlyphs">5</text>
<text x="416.27" y="223.80" font-size="15.6" fill="#262626" stroke="#262626" stroke-width="0.12" textLength="8.84" lengthAdjust="spacingAndGlyphs">0</text>
<text x="397.10" y="162.70" font-size="15.6" fill="#262626" stroke="#262626" stroke-width="0.12" textLength="8.40" lengthAdjust="spacingAndGlyphs">5</text>
<text x="406.53" y="162.70" font-size="15.6" fill="#262626" stroke="#262626" stroke-width="0.12" textLength="8.93" lengthAdjust="spacingAndGlyphs">0</text>
<text x="416.19" y="162.70" font-size="15.6" fill="#262626" stroke="#262626" stroke-width="0.12" textLength="8.93" lengthAdjust="spacingAndGlyphs">0</text>
<text x="397.23" y="101.60" font-size="15.6" fill="#262626" stroke="#262626" stroke-width="0.12" textLength="8.60" lengthAdjust="spacingAndGlyphs">7</text>
<text x="406.91" y="101.60" font-size="15.6" fill="#262626" stroke="#262626" stroke-width="0.12" textLength="8.33" lengthAdjust="spacingAndGlyphs">5</text>
<text x="416.26" y="101.60" font-size="15.6" fill="#262626" stroke="#262626" stroke-width="0.12" textLength="8.86" lengthAdjust="spacingAndGlyphs">0</text>
<text x="387.04" y="40.50" font-size="15.6" fill="#262626" stroke="#262626" stroke-width="0.12" textLength="8.57" lengthAdjust="spacingAndGlyphs">1</text>
<text x="396.61" y="40.50" font-size="15.6" fill="#262626" stroke="#262626" stroke-width="0.12" textLength="9.01" lengthAdjust="spacingAndGlyphs">0</text>
<text x="406.36" y="40.50" font-size="15.6" fill="#262626" stroke="#262626" stroke-width="0.12" textLength="9.01" lengthAdjust="spacingAndGlyphs">0</text>
<text x="416.11" y="40.50" font-size="15.6" fill="#262626" stroke="#262626" stroke-width="0.12" textLength="9.01" lengthAdjust="spacingAndGlyphs">0</text>
<text x="64.25" y="637.40" font-size="15.6" fill="#262626" stroke="#262626" stroke-width="0.12" textLength="9.09" lengthAdjust="spacingAndGlyphs">0</text>
<text x="45.33" y="576.15" font-size="15.6" fill="#262626" stroke="#262626" stroke-width="0.12" textLength="8.54" lengthAdjust="spacingAndGlyphs">2</text>
<text x="55.14" y="576.15" font-size="15.6" fill="#262626" stroke="#262626" stroke-width="0.12" textLength="8.31" lengthAdjust="spacingAndGlyphs">5</text>
<text x="64.47" y="576.15" font-size="15.6" fill="#262626" stroke="#262626" stroke-width="0.12" textLength="8.84" lengthAdjust="spacingAndGlyphs">0</text>
<text x="45.30" y="514.90" font-size="15.6" fill="#262626" stroke="#262626" stroke-width="0.12" textLength="8.40" lengthAdjust="spacingAndGlyphs">5</text>
<text x="54.73" y="514.90" font-size="15.6" fill="#262626" stroke="#262626" stroke-width="0.12" textLength="8.93" lengthAdjust="spacingAndGlyphs">0</text>
<text x="64.39" y="514.90" font-size="15.6" fill="#262626" stroke="#262626" stroke-width="0.12" textLength="8.93" lengthAdjust="spacingAndGlyphs">0</text>
<text x="45.43" y="453.65" font-size="15.6" fill="#262626" stroke="#262626" stroke-width="0.12" textLength="8.60" lengthAdjust="spacingAndGlyphs">7</text>
<text x="55.11" y="453.65" font-size="15.6" fill="#262626" stroke="#262626" stroke-width="0.12" textLength="8.33" lengthAdjust="spacingAndGlyphs">5</text>
<text x="64.46" y="453.65" font-size="15.6" fill="#262626" stroke="#262626" stroke-width="0.12" textLength="8.86" lengthAdjust="spacingAndGlyphs">0</text>
<text x="35.24" y="392.40" font-size="15.6" fill="#262626" stroke="#262626" stroke-width="0.12" textLength="8.57" lengthAdjust="spacingAndGlyphs">1</text>
<text x="44.81" y="392.40" font-size="15.6" fill="#262626" stroke="#262626" stroke-width="0.12" textLength="9.01" lengthAdjust="spacingAndGlyphs">0</text>
<text x="54.56" y="392.40" font-size="15.6" fill="#262626" stroke="#262626" stroke-width="0.12" textLength="9.01" lengthAdjust="spacingAndGlyphs">0</text>
<text x="64.31" y="392.40" font-size="15.6" fill="#262626" stroke="#262626" stroke-width="0.12" textLength="9.01" lengthAdjust="spacingAndGlyphs">0</text>
<text x="416.25" y="637.40" font-size="15.6" fill="#262626" stroke="#262626" stroke-width="0.12" textLength="9.09" lengthAdjust="spacingAndGlyphs">0</text>
<text x="397.33" y="576.15" font-size="15.6" fill="#262626" stroke="#262626" stroke-width="0.12" textLength="8.54" lengthAdjust="spacingAndGlyphs">2</text>
<text x="407.14" y="576.15" font-size="15.6" fill="#262626" stroke="#262626" stroke-width="0.12" textLength="8.31" lengthAdjust="spacingAndGlyphs">5</text>
<text x="416.47" y="576.15" font-size="15.6" fill="#262626" stroke="#262626" stroke-width="0.12" textLength="8.84" lengthAdjust="spacingAndGlyphs">0</text>
<text x="397.30" y="514.90" font-size="15.6" fill="#262626" stroke="#262626" stroke-width="0.12" textLength="8.40" lengthAdjust="spacingAndGlyphs">5</text>
<text x="406.73" y="514.90" font-size="15.6" fill="#262626" stroke="#262626" stroke-width="0.12" textLength="8.93" lengthAdjust="spacingAndGlyphs">0</text>
<text x="416.39" y="514.90" font-size="15.6" fill="#262626" stroke="#262626" stroke-width="0.12" textLength="8.93" lengthAdjust="spacingAndGlyphs">0</text>
<text x="397.43" y="453.65" font-size="15.6" fill="#262626" stroke="#262626" stroke-width="0.12" textLength="8.60" lengthAdjust="spacingAndGlyphs">7</text>
<text x="407.11" y="453.65" font-size="15.6" fill="#262626" stroke="#262626" stroke-width="0.12" textLength="8.33" lengthAdjust="spacingAndGlyphs">5</text>
<text x="416.46" y="453.65" font-size="15.6" fill="#262626" stroke="#262626" stroke-width="0.12" textLength="8.86" lengthAdjust="spacingAndGlyphs">0</text>
<text x="387.24" y="392.40" font-size="15.6" fill="#262626" stroke="#262626" stroke-width="0.12" textLength="8.57" lengthAdjust="spacingAndGlyphs">1</text>
<text x="396.81" y="392.40" font-size="15.6" fill="#262626" stroke="#262626" stroke-width="0.12" textLength="9.01" lengthAdjust="spacingAndGlyphs">0</text>
<text x="406.56" y="392.40" font-size="15.6" fill="#262626" stroke="#262626" stroke-width="0.12" textLength="9.01" lengthAdjust="spacingAndGlyphs">0</text>
<text x="416.31" y="392.40" font-size="15.6" fill="#262626" stroke="#262626" stroke-width="0.12" textLength="9.01" lengthAdjust="spacingAndGlyphs">0</text>
<text x="80.35" y="302.70" font-size="15.6" fill="#262626" stroke="#262626" stroke-width="0.12" textLength="9.09" lengthAdjust="spacingAndGlyphs">0</text>
<text x="124.95" y="302.70" font-size="15.6" fill="#262626" stroke="#262626" stroke-width="0.12" textLength="8.49" lengthAdjust="spacingAndGlyphs">1</text>
<text x="134.66" y="302.70" font-size="15.6" fill="#262626" stroke="#262626" stroke-width="0.12" textLength="8.40" lengthAdjust="spacingAndGlyphs">5</text>
<text x="144.09" y="302.70" font-size="15.6" fill="#262626" stroke="#262626" stroke-width="0.12" textLength="8.93" lengthAdjust="spacingAndGlyphs">0</text>
<text x="179.83" y="302.70" font-size="15.6" fill="#262626" stroke="#262626" stroke-width="0.12" textLength="8.44" lengthAdjust="spacingAndGlyphs">3</text>
<text x="189.12" y="302.70" font-size="15.6" fill="#262626" stroke="#262626" stroke-width="0.12" textLength="8.79" lengthAdjust="spacingAndGlyphs">0</text>
<text x="198.63" y="302.70" font-size="15.6" fill="#262626" stroke="#262626" stroke-width="0.12" textLength="8.79" lengthAdjust="spacingAndGlyphs">0</text>
<text x="234.30" y="302.70" font-size="15.6" fill="#262626" stroke="#262626" stroke-width="0.12" textLength="8.69" lengthAdjust="spacingAndGlyphs">4</text>
<text x="243.93" y="302.70" font-size="15.6" fill="#262626" stroke="#262626" stroke-width="0.12" textLength="8.20" lengthAdjust="spacingAndGlyphs">5</text>
<text x="253.14" y="302.70" font-size="15.6" fill="#262626" stroke="#262626" stroke-width="0.12" textLength="8.72" lengthAdjust="spacingAndGlyphs">0</text>
<text x="288.18" y="302.70" font-size="15.6" fill="#262626" stroke="#262626" stroke-width="0.12" textLength="9.07" lengthAdjust="spacingAndGlyphs">6</text>
<text x="297.84" y="302.70" font-size="15.6" fill="#262626" stroke="#262626" stroke-width="0.12" textLength="8.83" lengthAdjust="spacingAndGlyphs">0</text>
<text x="307.39" y="302.70" font-size="15.6" fill="#262626" stroke="#262626" stroke-width="0.12" textLength="8.83" lengthAdjust="spacingAndGlyphs">0</text>
<text x="419.19" y="302.70" font-size="15.6" fill="#262626" stroke="#262626" stroke-width="0.12" textLength="9.24" lengthAdjust="spacingAndGlyphs">0</text>
<text x="429.02" y="302.70" font-size="15.6" fill="#262626" stroke="#262626" stroke-width="0.12" textLength="4.59" lengthAdjust="spacingAndGlyphs">.</text>
<text x="434.17" y="302.70" font-size="15.6" fill="#262626" stroke="#262626" stroke-width="0.12" textLength="9.24" lengthAdjust="spacingAndGlyphs">0</text>
<text x="444.16" y="302.70" font-size="15.6" fill="#262626" stroke="#262626" stroke-width="0.12" textLength="9.24" lengthAdjust="spacingAndGlyphs">0</text>
<text x="474.09" y="302.70" font-size="15.6" fill="#262626" stroke="#262626" stroke-width="0.12" textLength="9.13" lengthAdjust="spacingAndGlyphs">0</text>
<text x="483.81" y="302.70" font-size="15.6" fill="#262626" stroke="#262626" stroke-width="0.12" textLength="4.53" lengthAdjust="spacingAndGlyphs">.</text>
<text x="489.08" y="302.70" font-size="15.6" fill="#262626" stroke="#262626" stroke-width="0.12" textLength="8.68" lengthAdjust="spacingAndGlyphs">1</text>
<text x="499.00" y="302.70" font-size="15.6" fill="#262626" stroke="#262626" stroke-width="0.12" textLength="8.58" lengthAdjust="spacingAndGlyphs">5</text>
<text x="528.44" y="302.70" font-size="15.6" fill="#262626" stroke="#262626" stroke-width="0.12" textLength="9.15" lengthAdjust="spacingAndGlyphs">0</text>
<text x="538.19" y="302.70" font-size="15.6" fill="#262626" stroke="#262626" stroke-width="0.12" textLength="4.54" lengthAdjust="spacingAndGlyphs">.</text>
<text x="543.51" y="302.70" font-size="15.6" fill="#262626" stroke="#262626" stroke-width="0.12" textLength="8.79" lengthAdjust="spacingAndGlyphs">3</text>
<text x="553.19" y="302.70" font-size="15.6" fill="#262626" stroke="#262626" stroke-width="0.12" textLength="9.15" lengthAdjust="spacingAndGlyphs">0</text>
<text x="582.99" y="302.70" font-size="15.6" fill="#262626" stroke="#262626" stroke-width="0.12" textLength="9.24" lengthAdjust="spacingAndGlyphs">0</text>
<text x="592.83" y="302.70" font-size="15.6" fill="#262626" stroke="#262626" stroke-width="0.12" textLength="4.59" lengthAdjust="spacingAndGlyphs">.</text>
<text x="597.99" y="302.70" font-size="15.6" fill="#262626" stroke="#262626" stroke-width="0.12" textLength="9.21" lengthAdjust="spacingAndGlyphs">4</text>
<text x="608.20" y="302.70" font-size="15.6" fill="#262626" stroke="#262626" stroke-width="0.12" textLength="8.69" lengthAdjust="spacingAndGlyphs">5</text>
<text x="637.54" y="302.70" font-size="15.6" fill="#262626" stroke="#262626" stroke-width="0.12" textLength="9.15" lengthAdjust="spacingAndGlyphs">0</text>
<text x="647.29" y="302.70" font-size="15.6" fill="#262626" stroke="#262626" stroke-width="0.12" textLength="4.54" lengthAdjust="spacingAndGlyphs">.</text>
<text x="652.28" y="302.70" font-size="15.6" fill="#262626" stroke="#262626" stroke-width="0.12" textLength="9.40" lengthAdjust="spacingAndGlyphs">6</text>
<text x="662.29" y="302.70" font-size="15.6" fill="#262626" stroke="#262626" stroke-width="0.12" textLength="9.15" lengthAdjust="spacingAndGlyphs">0</text>
<text x="80.35" y="654.60" font-size="15.6" fill="#262626" stroke="#262626" stroke-width="0.12" textLength="9.09" lengthAdjust="spacingAndGlyphs">0</text>
<text x="128.58" y="654.60" font-size="15.6" fill="#262626" stroke="#262626" stroke-width="0.12" textLength="8.54" lengthAdjust="spacingAndGlyphs">2</text>
<text x="138.39" y="654.60" font-size="15.6" fill="#262626" stroke="#262626" stroke-width="0.12" textLength="8.31" lengthAdjust="spacingAndGlyphs">5</text>
<text x="147.72" y="654.60" font-size="15.6" fill="#262626" stroke="#262626" stroke-width="0.12" textLength="8.84" lengthAdjust="spacingAndGlyphs">0</text>
<text x="186.40" y="654.60" font-size="15.6" fill="#262626" stroke="#262626" stroke-width="0.12" textLength="8.40" lengthAdjust="spacingAndGlyphs">5</text>
<text x="195.83" y="654.60" font-size="15.6" fill="#262626" stroke="#262626" stroke-width="0.12" textLength="8.93" lengthAdjust="spacingAndGlyphs">0</text>
<text x="205.49" y="654.60" font-size="15.6" fill="#262626" stroke="#262626" stroke-width="0.12" textLength="8.93" lengthAdjust="spacingAndGlyphs">0</text>
<text x="244.13" y="654.60" font-size="15.6" fill="#262626" stroke="#262626" stroke-width="0.12" textLength="8.60" lengthAdjust="spacingAndGlyphs">7</text>
<text x="253.81" y="654.60" font-size="15.6" fill="#262626" stroke="#262626" stroke-width="0.12" textLength="8.33" lengthAdjust="spacingAndGlyphs">5</text>
<text x="263.16" y="654.60" font-size="15.6" fill="#262626" stroke="#262626" stroke-width="0.12" textLength="8.86" lengthAdjust="spacingAndGlyphs">0</text>
<text x="296.59" y="654.60" font-size="15.6" fill="#262626" stroke="#262626" stroke-width="0.12" textLength="8.57" lengthAdjust="spacingAndGlyphs">1</text>
<text x="306.16" y="654.60" font-size="15.6" fill="#262626" stroke="#262626" stroke-width="0.12" textLength="9.01" lengthAdjust="spacingAndGlyphs">0</text>
<text x="315.91" y="654.60" font-size="15.6" fill="#262626" stroke="#262626" stroke-width="0.12" textLength="9.01" lengthAdjust="spacingAndGlyphs">0</text>
<text x="325.66" y="654.60" font-size="15.6" fill="#262626" stroke="#262626" stroke-width="0.12" textLength="9.01" lengthAdjust="spacingAndGlyphs">0</text>
<text x="432.35" y="654.60" font-size="15.6" fill="#262626" stroke="#262626" stroke-width="0.12" textLength="9.09" lengthAdjust="spacingAndGlyphs">0</text>
<text x="480.58" y="654.60" font-size="15.6" fill="#262626" stroke="#262626" stroke-width="0.12" textLength="8.54" lengthAdjust="spacingAndGlyphs">2</text>
<text x="490.39" y="654.60" font-size="15.6" fill="#262626" stroke="#262626" stroke-width="0.12" textLength="8.31" lengthAdjust="spacingAndGlyphs">5</text>
<text x="499.72" y="654.60" font-size="15.6" fill="#262626" stroke="#262626" stroke-width="0.12" textLength="8.84" lengthAdjust="spacingAndGlyphs">0</text>
<text x="538.40" y="654.60" font-size="15.6" fill="#262626" stroke="#262626" stroke-width="0.12" textLength="8.40" lengthAdjust="spacingAndGlyphs">5</text>
<text x="547.83" y="654.60" font-size="15.6" fill="#262626" stroke="#262626" stroke-width="0.12" textLength="8.93" lengthAdjust="spacingAndGlyphs">0</text>
<text x="557.49" y="654.60" font-size="15.6" fill="#262626" stroke="#262626" stroke-width="0.12" textLength="8.93" lengthAdjust="spacingAndGlyphs">0</text>
<text x="596.13" y="654.60" font-size="15.6" fill="#262626" stroke="#262626" stroke-width="0.12" textLength="8.60" lengthAdjust="spacingAndGlyphs">7</text>
<text x="605.81" y="654.60" font-size="15.6" fill="#262626" stroke="#262626" stroke-width="0.12" textLength="8.33" lengthAdjust="spacingAndGlyphs">5</text>
<text x="615.16" y="654.60" font-size="15.6" fill="#262626" stroke="#262626" stroke-width="0.12" textLength="8.86" lengthAdjust="spacingAndGlyphs">0</text>
<text x="648.59" y="654.60" font-size="15.6" fill="#262626" stroke="#262626" stroke-width="0.12" textLength="8.57" lengthAdjust="spacingAndGlyphs">1</text>
<text x="658.16" y="654.60" font-size="15.6" fill="#262626" stroke="#262626" stroke-width="0.12" textLength="9.01" lengthAdjust="spacingAndGlyphs">0</text>
<text x="667.91" y="654.60" font-size="15.6" fill="#262626" stroke="#262626" stroke-width="0.12" textLength="9.01" lengthAdjust="spacingAndGlyphs">0</text>
<text x="677.66" y="654.60" font-size="15.6" fill="#262626" stroke="#262626" stroke-width="0.12" textLength="9.01" lengthAdjust="spacingAndGlyphs">0</text>
<g transform="translate(0,0) rotate(-90)">
<text x="-176.02" y="24.60" font-size="15.8" fill="#262626" font-style="italic" stroke="#262626" stroke-width="0.12" textLength="8.20" lengthAdjust="spacingAndGlyphs">F</text>
<text x="-164.90" y="16.20" font-size="11.8" fill="#262626" font-style="italic" stroke="#262626" stroke-width="0.12" textLength="6.84" lengthAdjust="spacingAndGlyphs">e</text>
<text x="-157.77" y="16.20" font-size="11.8" fill="#262626" font-style="italic" stroke="#262626" stroke-width="0.12" textLength="6.29" lengthAdjust="spacingAndGlyphs">x</text>
<text x="-150.96" y="16.20" font-size="11.8" fill="#262626" font-style="italic" stroke="#262626" stroke-width="0.12" textLength="6.84" lengthAdjust="spacingAndGlyphs">p</text>
<text x="-166.28" y="29.60" font-size="11.8" fill="#262626" font-style="italic" stroke="#262626" stroke-width="0.12" textLength="6.26" lengthAdjust="spacingAndGlyphs">u</text>
<text x="-159.59" y="29.60" font-size="11.8" fill="#262626" font-style="italic" stroke="#262626" stroke-width="0.12" textLength="2.39" lengthAdjust="spacingAndGlyphs">l</text>
<text x="-156.85" y="29.60" font-size="11.8" fill="#262626" font-style="italic" stroke="#262626" stroke-width="0.12" textLength="3.87" lengthAdjust="spacingAndGlyphs">t</text>
<text x="-137.27" y="24.60" font-size="15.8" fill="#262626" stroke="#262626" stroke-width="0.12" textLength="4.62" lengthAdjust="spacingAndGlyphs">(</text>
<text x="-131.45" y="24.60" font-size="15.8" fill="#262626" font-style="italic" stroke="#262626" stroke-width="0.12" textLength="11.80" lengthAdjust="spacingAndGlyphs">N</text>
<text x="-117.98" y="24.60" font-size="15.8" fill="#262626" stroke="#262626" stroke-width="0.12" textLength="4.62" lengthAdjust="spacingAndGlyphs">)</text>
</g>
<g transform="translate(351.9,0) rotate(-90)">
<text x="-176.02" y="24.60" font-size="15.8" fill="#262626" font-style="italic" stroke="#262626" stroke-width="0.12" textLength="8.20" lengthAdjust="spacingAndGlyphs">F</text>
<text x="-164.90" y="16.20" font-size="11.8" fill="#262626" font-style="italic" stroke="#262626" stroke-width="0.12" textLength="6.84" lengthAdjust="spacingAndGlyphs">e</text>
<text x="-157.77" y="16.20" font-size="11.8" fill="#262626" font-style="italic" stroke="#262626" stroke-width="0.12" textLength="6.29" lengthAdjust="spacingAndGlyphs">x</text>
<text x="-150.96" y="16.20" font-size="11.8" fill="#262626" font-style="italic" stroke="#262626" stroke-width="0.12" textLength="6.84" lengthAdjust="spacingAndGlyphs">p</text>
<text x="-166.28" y="29.60" font-size="11.8" fill="#262626" font-style="italic" stroke="#262626" stroke-width="0.12" textLength="6.26" lengthAdjust="spacingAndGlyphs">u</text>
<text x="-159.59" y="29.60" font-size="11.8" fill="#262626" font-style="italic" stroke="#262626" stroke-width="0.12" textLength="2.39" lengthAdjust="spacingAndGlyphs">l</text>
<text x="-156.85" y="29.60" font-size="11.8" fill="#262626" font-style="italic" stroke="#262626" stroke-width="0.12" textLength="3.87" lengthAdjust="spacingAndGlyphs">t</text>
<text x="-137.27" y="24.60" font-size="15.8" fill="#262626" stroke="#262626" stroke-width="0.12" textLength="4.62" lengthAdjust="spacingAndGlyphs">(</text>
<text x="-131.45" y="24.60" font-size="15.8" fill="#262626" font-style="italic" stroke="#262626" stroke-width="0.12" textLength="11.80" lengthAdjust="spacingAndGlyphs">N</text>
<text x="-117.98" y="24.60" font-size="15.8" fill="#262626" stroke="#262626" stroke-width="0.12" textLength="4.62" lengthAdjust="spacingAndGlyphs">)</text>
</g>
<g transform="translate(0,352.4) rotate(-90)">
<text x="-176.02" y="24.60" font-size="15.8" fill="#262626" font-style="italic" stroke="#262626" stroke-width="0.12" textLength="8.20" lengthAdjust="spacingAndGlyphs">F</text>
<text x="-164.90" y="16.20" font-size="11.8" fill="#262626" font-style="italic" stroke="#262626" stroke-width="0.12" textLength="6.84" lengthAdjust="spacingAndGlyphs">e</text>
<text x="-157.77" y="16.20" font-size="11.8" fill="#262626" font-style="italic" stroke="#262626" stroke-width="0.12" textLength="6.29" lengthAdjust="spacingAndGlyphs">x</text>
<text x="-150.96" y="16.20" font-size="11.8" fill="#262626" font-style="italic" stroke="#262626" stroke-width="0.12" textLength="6.84" lengthAdjust="spacingAndGlyphs">p</text>
<text x="-166.28" y="29.60" font-size="11.8" fill="#262626" font-style="italic" stroke="#262626" stroke-width="0.12" textLength="6.26" lengthAdjust="spacingAndGlyphs">u</text>
<text x="-159.59" y="29.60" font-size="11.8" fill="#262626" font-style="italic" stroke="#262626" stroke-width="0.12" textLength="2.39" lengthAdjust="spacingAndGlyphs">l</text>
<text x="-156.85" y="29.60" font-size="11.8" fill="#262626" font-style="italic" stroke="#262626" stroke-width="0.12" textLength="3.87" lengthAdjust="spacingAndGlyphs">t</text>
<text x="-137.27" y="24.60" font-size="15.8" fill="#262626" stroke="#262626" stroke-width="0.12" textLength="4.62" lengthAdjust="spacingAndGlyphs">(</text>
<text x="-131.45" y="24.60" font-size="15.8" fill="#262626" font-style="italic" stroke="#262626" stroke-width="0.12" textLength="11.80" lengthAdjust="spacingAndGlyphs">N</text>
<text x="-117.98" y="24.60" font-size="15.8" fill="#262626" stroke="#262626" stroke-width="0.12" textLength="4.62" lengthAdjust="spacingAndGlyphs">)</text>
</g>
<g transform="translate(351.9,352.4) rotate(-90)">
<text x="-176.02" y="24.60" font-size="15.8" fill="#262626" font-style="italic" stroke="#262626" stroke-width="0.12" textLength="8.20" lengthAdjust="spacingAndGlyphs">F</text>
<text x="-164.90" y="16.20" font-size="11.8" fill="#262626" font-style="italic" stroke="#262626" stroke-width="0.12" textLength="6.84" lengthAdjust="spacingAndGlyphs">e</text>
<text x="-157.77" y="16.20" font-size="11.8" fill="#262626" font-style="italic" stroke="#262626" stroke-width="0.12" textLength="6.29" lengthAdjust="spacingAndGlyphs">x</text>
<text x="-150.96" y="16.20" font-size="11.8" fill="#262626" font-style="italic" stroke="#262626" stroke-width="0.12" textLength="6.84" lengthAdjust="spacingAndGlyphs">p</text>
<text x="-166.28" y="29.60" font-size="11.8" fill="#262626" font-style="italic" stroke="#262626" stroke-width="0.12" textLength="6.26" lengthAdjust="spacingAndGlyphs">u</text>
<text x="-159.59" y="29.60" font-size="11.8" fill="#262626" font-style="italic" stroke="#262626" stroke-width="0.12" textLength="2.39" lengthAdjust="spacingAndGlyphs">l</text>
<text x="-156.85" y="29.60" font-size="11.8" fill="#262626" font-style="italic" stroke="#262626" stroke-width="0.12" textLength="3.87" lengthAdjust="spacingAndGlyphs">t</text>
<text x="-137.27" y="24.60" font-size="15.8" fill="#262626" stroke="#262626" stroke-width="0.12" textLength="4.62" lengthAdjust="spacingAndGlyphs">(</text>
<text x="-131.45" y="24.60" font-size="15.8" fill="#262626" font-style="italic" stroke="#262626" stroke-width="0.12" textLength="11.80" lengthAdjust="spacingAndGlyphs">N</text>
<text x="-117.98" y="24.60" font-size="15.8" fill="#262626" stroke="#262626" stroke-width="0.12" textLength="4.62" lengthAdjust="spacingAndGlyphs">)</text>
</g>
<text x="134.21" y="324.20" font-size="15.8" fill="#262626" font-style="italic" stroke="#262626" stroke-width="0.12" textLength="10.82" lengthAdjust="spacingAndGlyphs">B</text>
<text x="145.43" y="324.20" font-size="15.8" fill="#262626" font-style="italic" stroke="#262626" stroke-width="0.12" textLength="13.71" lengthAdjust="spacingAndGlyphs">M</text>
<text x="159.52" y="324.20" font-size="15.8" fill="#262626" font-style="italic" stroke="#262626" stroke-width="0.12" textLength="12.44" lengthAdjust="spacingAndGlyphs">D</text>
<text x="172.07" y="327.10" font-size="11.0" fill="#262626" font-style="italic" stroke="#262626" stroke-width="0.12" textLength="8.23" lengthAdjust="spacingAndGlyphs">C</text>
<text x="180.38" y="327.10" font-size="11.0" fill="#262626" font-style="italic" stroke="#262626" stroke-width="0.12" textLength="7.77" lengthAdjust="spacingAndGlyphs">B</text>
<text x="188.34" y="327.10" font-size="11.0" fill="#262626" font-style="italic" stroke="#262626" stroke-width="0.12" textLength="8.23" lengthAdjust="spacingAndGlyphs">C</text>
<text x="196.02" y="327.10" font-size="11.0" fill="#262626" font-style="italic" stroke="#262626" stroke-width="0.12" textLength="7.83" lengthAdjust="spacingAndGlyphs">T</text>
<text x="210.21" y="325.30" font-size="15.8" fill="#262626" stroke="#262626" stroke-width="0.12" textLength="4.73" lengthAdjust="spacingAndGlyphs">(</text>
<text x="216.46" y="325.30" font-size="15.8" fill="#262626" font-style="italic" stroke="#262626" stroke-width="0.12" textLength="15.75" lengthAdjust="spacingAndGlyphs">m</text>
<text x="233.00" y="325.30" font-size="15.8" fill="#262626" font-style="italic" stroke="#262626" stroke-width="0.12" textLength="9.60" lengthAdjust="spacingAndGlyphs">g</text>
<text x="243.12" y="325.30" font-size="15.8" fill="#262626" stroke="#262626" stroke-width="0.12" textLength="5.65" lengthAdjust="spacingAndGlyphs">/</text>
<text x="248.93" y="325.30" font-size="15.8" fill="#262626" font-style="italic" stroke="#262626" stroke-width="0.12" textLength="8.96" lengthAdjust="spacingAndGlyphs">c</text>
<text x="258.21" y="325.30" font-size="15.8" fill="#262626" font-style="italic" stroke="#262626" stroke-width="0.12" textLength="15.75" lengthAdjust="spacingAndGlyphs">m</text>
<text x="274.06" y="319.20" font-size="11.0" fill="#262626" stroke="#262626" stroke-width="0.12" textLength="7.96" lengthAdjust="spacingAndGlyphs">3</text>
<text x="284.60" y="325.30" font-size="15.8" fill="#262626" stroke="#262626" stroke-width="0.12" textLength="4.65" lengthAdjust="spacingAndGlyphs">)</text>
<text x="511.32" y="322.80" font-size="15.8" fill="#262626" font-style="italic" stroke="#262626" stroke-width="0.12" textLength="10.62" lengthAdjust="spacingAndGlyphs">B</text>
<text x="522.20" y="322.80" font-size="15.8" fill="#262626" font-style="italic" stroke="#262626" stroke-width="0.12" textLength="10.83" lengthAdjust="spacingAndGlyphs">V</text>
<text x="533.36" y="322.80" font-size="15.8" fill="#262626" stroke="#262626" stroke-width="0.12" textLength="5.43" lengthAdjust="spacingAndGlyphs">/</text>
<text x="537.88" y="322.80" font-size="15.8" fill="#262626" font-style="italic" stroke="#262626" stroke-width="0.12" textLength="10.70" lengthAdjust="spacingAndGlyphs">T</text>
<text x="548.40" y="322.80" font-size="15.8" fill="#262626" font-style="italic" stroke="#262626" stroke-width="0.12" textLength="10.83" lengthAdjust="spacingAndGlyphs">V</text>
<text x="561.54" y="325.00" font-size="11.0" fill="#262626" font-style="italic" stroke="#262626" stroke-width="0.12" textLength="6.68" lengthAdjust="spacingAndGlyphs">μ</text>
<text x="568.40" y="325.00" font-size="11.0" fill="#262626" font-style="italic" stroke="#262626" stroke-width="0.12" textLength="7.80" lengthAdjust="spacingAndGlyphs">C</text>
<text x="575.67" y="325.00" font-size="11.0" fill="#262626" font-style="italic" stroke="#262626" stroke-width="0.12" textLength="7.41" lengthAdjust="spacingAndGlyphs">T</text>
<text x="590.00" y="322.80" font-size="15.8" fill="#262626" stroke="#262626" stroke-width="0.12" textLength="4.80" lengthAdjust="spacingAndGlyphs">(</text>
<text x="596.96" y="322.80" font-size="15.8" fill="#262626" stroke="#262626" stroke-width="0.12" textLength="12.46" lengthAdjust="spacingAndGlyphs">−</text>
<text x="611.57" y="322.80" font-size="15.8" fill="#262626" stroke="#262626" stroke-width="0.12" textLength="4.80" lengthAdjust="spacingAndGlyphs">)</text>
<text x="174.98" y="676.70" font-size="15.8" fill="#262626" font-style="italic" stroke="#262626" stroke-width="0.12" textLength="8.20" lengthAdjust="spacingAndGlyphs">F</text>
<text x="183.77" y="670.40" font-size="11.0" fill="#262626" font-style="italic" stroke="#262626" stroke-width="0.12" textLength="8.31" lengthAdjust="spacingAndGlyphs">C</text>
<text x="192.15" y="670.40" font-size="11.0" fill="#262626" font-style="italic" stroke="#262626" stroke-width="0.12" textLength="7.84" lengthAdjust="spacingAndGlyphs">B</text>
<text x="200.18" y="670.40" font-size="11.0" fill="#262626" font-style="italic" stroke="#262626" stroke-width="0.12" textLength="8.31" lengthAdjust="spacingAndGlyphs">C</text>
<text x="207.93" y="670.40" font-size="11.0" fill="#262626" font-style="italic" stroke="#262626" stroke-width="0.12" textLength="7.90" lengthAdjust="spacingAndGlyphs">T</text>
<text x="184.58" y="680.80" font-size="11.0" fill="#262626" font-style="italic" stroke="#262626" stroke-width="0.12" textLength="6.78" lengthAdjust="spacingAndGlyphs">u</text>
<text x="191.82" y="680.80" font-size="11.0" fill="#262626" font-style="italic" stroke="#262626" stroke-width="0.12" textLength="2.59" lengthAdjust="spacingAndGlyphs">l</text>
<text x="194.83" y="680.80" font-size="11.0" fill="#262626" font-style="italic" stroke="#262626" stroke-width="0.12" textLength="4.13" lengthAdjust="spacingAndGlyphs">t</text>
<text x="223.51" y="676.70" font-size="15.8" fill="#262626" stroke="#262626" stroke-width="0.12" textLength="4.73" lengthAdjust="spacingAndGlyphs">(</text>
<text x="229.46" y="676.70" font-size="15.8" fill="#262626" font-style="italic" stroke="#262626" stroke-width="0.12" textLength="12.07" lengthAdjust="spacingAndGlyphs">N</text>
<text x="243.23" y="676.70" font-size="15.8" fill="#262626" stroke="#262626" stroke-width="0.12" textLength="4.73" lengthAdjust="spacingAndGlyphs">)</text>
<text x="531.68" y="679.00" font-size="15.8" fill="#262626" font-style="italic" stroke="#262626" stroke-width="0.12" textLength="8.20" lengthAdjust="spacingAndGlyphs">F</text>
<text x="542.24" y="670.80" font-size="11.0" fill="#262626" font-style="italic" stroke="#262626" stroke-width="0.12" textLength="6.71" lengthAdjust="spacingAndGlyphs">μ</text>
<text x="549.13" y="670.80" font-size="11.0" fill="#262626" font-style="italic" stroke="#262626" stroke-width="0.12" textLength="7.83" lengthAdjust="spacingAndGlyphs">C</text>
<text x="556.43" y="670.80" font-size="11.0" fill="#262626" font-style="italic" stroke="#262626" stroke-width="0.12" textLength="7.45" lengthAdjust="spacingAndGlyphs">T</text>
<text x="541.50" y="684.00" font-size="11.0" fill="#262626" font-style="italic" stroke="#262626" stroke-width="0.12" textLength="6.50" lengthAdjust="spacingAndGlyphs">u</text>
<text x="548.44" y="684.00" font-size="11.0" fill="#262626" font-style="italic" stroke="#262626" stroke-width="0.12" textLength="2.48" lengthAdjust="spacingAndGlyphs">l</text>
<text x="551.29" y="684.00" font-size="11.0" fill="#262626" font-style="italic" stroke="#262626" stroke-width="0.12" textLength="4.01" lengthAdjust="spacingAndGlyphs">t</text>
<text x="571.54" y="679.00" font-size="15.8" fill="#262626" stroke="#262626" stroke-width="0.12" textLength="4.60" lengthAdjust="spacingAndGlyphs">(</text>
<text x="577.32" y="679.00" font-size="15.8" fill="#262626" font-style="italic" stroke="#262626" stroke-width="0.12" textLength="11.75" lengthAdjust="spacingAndGlyphs">N</text>
<text x="590.74" y="679.00" font-size="15.8" fill="#262626" stroke="#262626" stroke-width="0.12" textLength="4.60" lengthAdjust="spacingAndGlyphs">)</text>
<text x="342.54" y="327.30" font-size="23.4" fill="#000" textLength="15.00" lengthAdjust="spacingAndGlyphs">A</text>
<text x="691.99" y="327.30" font-size="23.4" fill="#000" textLength="15.41" lengthAdjust="spacingAndGlyphs">B</text>
<text x="342.70" y="678.80" font-size="23.4" fill="#000" textLength="15.92" lengthAdjust="spacingAndGlyphs">C</text>
<text x="692.09" y="678.90" font-size="23.4" fill="#000" textLength="15.85" lengthAdjust="spacingAndGlyphs">D</text>
</g></svg></body></html>
